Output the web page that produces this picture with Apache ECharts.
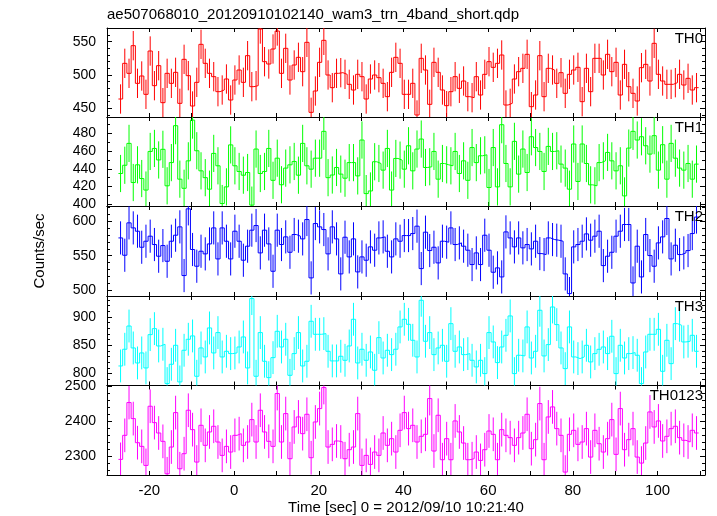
<!DOCTYPE html>
<html>
<head>
<meta charset="utf-8">
<script src="https://cdn.jsdelivr.net/npm/echarts@6/dist/echarts.min.js"></script>
<style>html,body{margin:0;padding:0;background:#fff}#c{width:717px;height:516px}</style>
</head>
<body>
<div id="c"></div>
<script>
// ---- data (counts/sec per 1 s bin) ----
const titleText = 'ae507068010_20120910102140_wam3_trn_4band_short.qdp';
const xTitle = 'Time [sec] 0 = 2012/09/10 10:21:40';
const yTitle = 'Counts/sec';
const bandNames = ['TH0', 'TH1', 'TH2', 'TH3', 'TH0123'];
const binStart = -27.3;   // time of first bin edge [s]
const binWidth = 1.0;     // [s]
const xTickValues = [-30, -20, -10, 0, 10, 20, 30, 40, 50, 60, 70, 80, 90, 100, 110];
const xLabelValues = [-20, 0, 20, 40, 60, 80, 100];

const TH0 = [464,517.5,502.5,544,487.5,498.5,471,536,484,514,458.5,502.5,487.5,504,457.5,523.5,499,453.5,489,546,517.5,502.5,497.5,475,477.5,494,462.5,492.5,507.5,489,529,482.5,484,569,520,516.5,539,566,502.5,540,492.5,515,526.5,505,549,444,476,519,552,500,481,502.5,503.5,501,486,477.5,501,497.5,464,494,500,496,487.5,467.5,504,526.5,517.5,471,471,487.5,440,525,507.5,456,519,504,477.5,454,475,497.5,480,491,467.5,466,497.5,470,501,520,511.5,517.5,530,455,457.5,494,505,510,531,452.5,470,529,467.5,510,507.5,487.5,503.5,472.5,501,507.5,511.5,460,510,475,525,525,500,531,505,519,470,516,482.5,472.5,461,511,516,491,547.5,501,491,486,486,488.5,501,485,495,477.5,481];
const TH1 = [434.7,444,468.7,424.5,444.5,429,416,459.6,463,450,462,420.8,447,488.7,428.3,418,449,495,460.4,437.7,430,417,457.4,443.4,400.8,419.6,467,443.4,437,432.8,435.8,399,462.3,434.7,437,463,427,452,422,440.8,444.5,448.3,432.8,468.7,443.4,439.6,452,452,482.3,430,433,441.5,434,429.4,447,447,432,472.5,412,415,448,446,438.5,463,416,451.7,449.8,439.6,466,437.7,462.3,473.6,441.5,442.3,459.6,428.3,446,444.5,443.4,459.6,434.7,449,427,464,447,454.7,455.8,418.9,464,419.6,489.8,446,419.6,471,434,462.3,435.8,476.2,464,459.6,437,465.3,459.6,460.4,445.3,440.8,417,468,425.7,468,446,421.9,420.8,447,449,458.5,449,437.7,443.4,409.4,463.4,482.3,472.5,476.2,466,456.6,477.4,438.5,467.2,428.3,468.7,452,440.8,438.5,446,428.3,445.3];
const TH2 = [575.8,550.7,597.6,590.3,585.5,562.3,571,578.3,566.2,549.3,564.7,542,571,579.7,591.8,521.3,617.9,559,534.8,556.5,552.7,567.1,590.3,545.4,590.3,571,545.4,585.5,571,543.5,563.8,587,593.7,554.1,587,567.1,527.5,587,566.2,577.3,555,580.7,578.3,574.4,602.4,517.9,596.6,591.8,587.9,552.7,591.8,574.4,523.7,576.8,548.3,574.4,526.6,548.3,543.5,562.8,558,575.8,577.3,556.5,548.3,574.4,571,579.2,579.2,582.1,592.8,531.4,584.1,557.5,562.3,539.6,571,569.6,590.3,566.2,568.6,563.8,558,537.2,554.1,537.2,579.7,558,526.1,532.4,519.3,584.5,575.8,562.8,575.8,561.4,566.2,559.9,571,553.1,551.7,575.8,573.4,572.5,571,523.7,495.2,562.8,566.2,571,581.6,572.5,578.3,585.5,535.7,549.3,555,578.3,585.5,595.2,595.2,510.6,563.8,519.3,580.7,550.2,534.8,568.6,577.3,603.9,545.4,565.2,551.7,554.1,557.5,582.1,606];
const TH3 = [813.5,843,884,845.3,818.8,836.5,810,868.8,879.4,848.8,851.8,782.4,816.5,850,785.3,841.2,860.6,866.5,795.3,845.3,829.4,880.6,836.5,872.4,829.4,839.4,835.3,836.5,847,864.7,810,932.4,795.3,872.4,821.8,792.9,828.2,874.7,847,860.6,797,835.3,872.4,813.5,821.8,892.4,869.4,869.4,870.6,839.4,822.4,822.4,830.6,823.5,848.8,895.9,818.8,843,823.5,838.2,805.9,863.5,827.6,841.2,833.5,843,882.4,895.9,887,858.8,829.4,929.4,857.1,872.4,833.5,845.3,850,821.8,888.2,839.4,847,833.5,835.3,823.5,811.8,823.5,800,872.4,855.9,819.4,847,867.6,901.8,800,832.4,831.2,882.4,827.6,839.4,911.8,831.2,851.2,917.6,886.5,845.3,808.8,882.4,829.4,826.5,829.4,850,820.6,835.3,842.9,847,835.3,865.9,800,850,827.6,835.3,837.1,832.4,782.4,838.2,869.4,869.4,878.2,804.1,858.8,817.6,888.2,885.3,855.9,857.1,867.6,839.4];
const TH0123 = [2290.5,2359,2452.4,2406.7,2338,2327.6,2273.3,2441.9,2395.2,2365.7,2341.9,2249.5,2325.7,2423.8,2263.8,2306.7,2430.5,2375.2,2282.9,2387.6,2330.5,2368.6,2384.8,2340,2301.9,2327.6,2311.4,2359,2363.8,2330.5,2340,2403.8,2340,2430.5,2368.6,2341.9,2327.6,2478.1,2340,2421,2292.4,2382.9,2411.4,2363.8,2419,2295.2,2397.1,2435.2,2495.2,2325.7,2333.3,2342.9,2340,2292.4,2318.1,2325.7,2421,2273.3,2301.9,2276.2,2311.4,2301.9,2365.7,2330.5,2349.5,2311.4,2373.3,2423.8,2378.1,2387.6,2340,2356.2,2361.9,2463.8,2314.3,2416.2,2289.5,2349.5,2289.5,2400,2368.6,2337.1,2289.5,2292.4,2311.4,2287.6,2318.1,2371.4,2361.9,2289.5,2375.2,2359,2352.4,2330.5,2352.4,2365.7,2419,2321,2346.7,2449.5,2289.5,2411.4,2440,2378.1,2359,2254.3,2361.9,2373.3,2333.3,2340,2378.1,2297.1,2373.3,2335.2,2311.4,2349.5,2403.8,2304.8,2435.2,2318.1,2346.7,2378.1,2297.1,2280,2337.1,2425.7,2382.9,2400,2342.9,2356.2,2378.1,2384.8,2352.4,2344.8,2340,2373.3,2365.7];
// error bar half-lengths (per band)
const bandErrors = [22, 21, 24, 29, 48];
// y-axis ranges and ticks per band
const yMins = [437, 398, 491.7, 779, 2246];
const yMaxs = [570.5, 498.5, 622, 937, 2501];
const yLabelValues = [[450, 500, 550], [400, 420, 440, 460, 480], [500, 550, 600], [800, 850, 900], [2300, 2400, 2500]];
const yMinorValues = [
  [440,450,460,470,480,490,500,510,520,530,540,550,560,570],
  [400,410,420,430,440,450,460,470,480,490],
  [500,510,520,530,540,550,560,570,580,590,600,610,620],
  [780,790,800,810,820,830,840,850,860,870,880,890,900,910,920,930],
  [2260,2280,2300,2320,2340,2360,2380,2400,2420,2440,2460,2480,2500]
];
const bands = [TH0, TH1, TH2, TH3, TH0123];

// ---- layout / style ----
const colors = ['#ff0000', '#00ff00', '#0000ff', '#00ffff', '#ff00ff'];
const FONT = 'Liberation Sans, Arial, Helvetica, sans-serif';
const panelEdges = [28, 117, 206, 296, 385.5, 475];
const LEFT = 107, RIGHT = 705, W = 717;
const X_MIN = -30, X_MAX = 111.2;
const plainNum = function (v) { return String(Math.round(v)); };

const grids = [], xAxes = [], yAxes = [], series = [], graphics = [];
bands.forEach((vals, i) => {
  const top = panelEdges[i], h = panelEdges[i + 1] - panelEdges[i];
  grids.push({left: LEFT, width: RIGHT - LEFT, top: top, height: h, containLabel: false, outerBoundsMode: 'none', show: false});
  const isLast = i === bands.length - 1;
  const xBase = {type: 'value', gridIndex: i, min: X_MIN, max: X_MAX, interval: 10,
    splitLine: {show: false},
    axisLine: {show: true, onZero: false, lineStyle: {color: '#000', width: 1}},
    axisTick: {show: true, inside: true, length: 4, customValues: xTickValues, lineStyle: {color: '#000', width: 1}}};
  xAxes.push(Object.assign({}, xBase, {position: 'bottom',
    axisLabel: {show: isLast, customValues: xLabelValues, formatter: plainNum, color: '#000', fontSize: 15, fontFamily: FONT, margin: 8}}));
  xAxes.push(Object.assign({}, xBase, {position: 'top', axisLabel: {show: false}}));

  const yBase = {type: 'value', gridIndex: i, min: yMins[i], max: yMaxs[i], splitLine: {show: false}};
  const lineOn = {show: true, onZero: false, lineStyle: {color: '#000', width: 1}};
  const majorTick = {show: true, inside: true, length: 5, customValues: yLabelValues[i], lineStyle: {color: '#000', width: 1}};
  const minorTick = {show: true, inside: true, length: 3, customValues: yMinorValues[i], lineStyle: {color: '#000', width: 1}};
  yAxes.push(Object.assign({}, yBase, {position: 'left', axisLine: lineOn, axisTick: majorTick,
    axisLabel: {show: true, customValues: yLabelValues[i], formatter: plainNum, color: '#000', fontSize: 14, fontFamily: FONT, margin: 11}}));
  yAxes.push(Object.assign({}, yBase, {position: 'left', axisLine: {show: false, onZero: false}, axisTick: minorTick, axisLabel: {show: false}}));
  yAxes.push(Object.assign({}, yBase, {position: 'right', axisLine: lineOn, axisTick: majorTick, axisLabel: {show: false}}));
  yAxes.push(Object.assign({}, yBase, {position: 'right', axisLine: {show: false, onZero: false}, axisTick: minorTick, axisLabel: {show: false}}));

  const stepData = vals.map((v, k) => [binStart + k * binWidth, v]);
  stepData.push([binStart + vals.length * binWidth, vals[vals.length - 1]]);
  series.push({type: 'line', xAxisIndex: 2 * i, yAxisIndex: 4 * i, step: 'end', data: stepData,
    showSymbol: false, symbol: 'none', clip: true, silent: true,
    lineStyle: {color: colors[i], width: 1}, z: 3});
  const err = bandErrors[i];
  const errData = vals.map((v, k) => [binStart + (k + 0.5) * binWidth, v, err]);
  const col = colors[i];
  series.push({type: 'custom', xAxisIndex: 2 * i, yAxisIndex: 4 * i, clip: true, silent: true, data: errData, z: 2,
    renderItem: function (params, api) {
      const x = api.value(0), v = api.value(1), e = api.value(2);
      const p1 = api.coord([x, v - e]), p2 = api.coord([x, v + e]);
      return {type: 'line', shape: {x1: p1[0], y1: p1[1], x2: p2[0], y2: p2[1]},
        style: {stroke: col, lineWidth: 1}};
    }});

  graphics.push({type: 'text', right: W - RIGHT + 2, top: top + 3, z: 10,
    style: {text: bandNames[i], fill: '#000', fontSize: 15, fontFamily: FONT}});
});

graphics.push({type: 'text', left: LEFT, top: 7, style: {text: titleText, fill: '#000', fontSize: 15, fontFamily: FONT}});
graphics.push({type: 'text', x: 40, y: 251, rotation: Math.PI / 2,
  style: {text: yTitle, fill: '#000', fontSize: 15, fontFamily: FONT, align: 'center', verticalAlign: 'middle'}});
graphics.push({type: 'text', x: (LEFT + RIGHT) / 2, y: 508,
  style: {text: xTitle, fill: '#000', fontSize: 15, fontFamily: FONT, align: 'center', verticalAlign: 'middle'}});

const chart = echarts.init(document.getElementById('c'), null, {renderer: 'canvas'});
chart.setOption({
  backgroundColor: '#fff',
  animation: false,
  grid: grids,
  xAxis: xAxes,
  yAxis: yAxes,
  series: series,
  graphic: graphics
});
</script>
</body>
</html>
